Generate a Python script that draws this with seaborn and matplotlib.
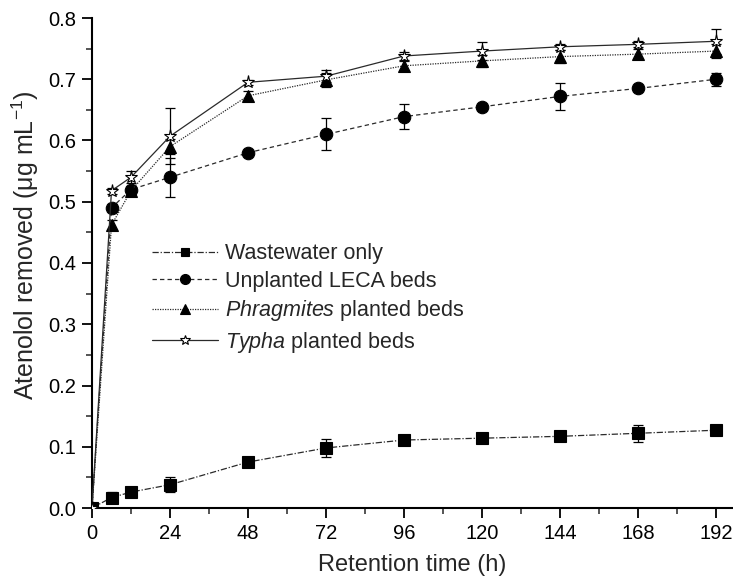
import numpy as np
import pandas as pd
import seaborn as sns
import matplotlib.pyplot as plt
from matplotlib.ticker import MultipleLocator

sns.set_theme(style="ticks")
plt.rcParams["font.family"] = ["Liberation Sans", "DejaVu Sans"]
plt.rcParams["mathtext.fontset"] = "custom"
plt.rcParams["mathtext.rm"] = "Liberation Sans"
plt.rcParams["mathtext.it"] = "Liberation Sans:italic"

hours = [0, 6, 12, 24, 48, 72, 96, 120, 144, 168, 192]

wastewater = [0, 0.017, 0.026, 0.038, 0.075, 0.098, 0.111, 0.114, 0.117, 0.122, 0.127]
wastewater_sd = [0, 0.009, 0.004, 0.012, 0.004, 0.014, 0.004, 0.008, 0.004, 0.014, 0.007]
leca = [0, 0.490, 0.520, 0.540, 0.580, 0.610, 0.639, 0.655, 0.672, 0.685, 0.700]
leca_sd = [0, 0.006, 0.006, 0.032, 0.003, 0.026, 0.020, 0.005, 0.022, 0.004, 0.011]
phragmites = [0, 0.462, 0.518, 0.590, 0.673, 0.699, 0.722, 0.730, 0.737, 0.741, 0.746]
phragmites_sd = [0, 0.008, 0.006, 0.012, 0.008, 0.012, 0.008, 0.010, 0.010, 0.008, 0.012]
typha = [0, 0.518, 0.540, 0.607, 0.695, 0.705, 0.738, 0.746, 0.753, 0.757, 0.762]
typha_sd = [0, 0.005, 0.010, 0.046, 0.004, 0.010, 0.006, 0.015, 0.005, 0.005, 0.020]

labels = ["Wastewater only", "Unplanted LECA beds",
          r"$\it{Phragmites}$ planted beds", r"$\it{Typha}$ planted beds"]

series = [
    (wastewater, wastewater_sd, (0, (5, 1.5, 1, 1.5)), "s", "black", 8),
    (leca, leca_sd, (0, (3.5, 2.5)), "o", "black", 9),
    (phragmites, phragmites_sd, (0, (1, 1)), "^", "black", 9),
    (typha, typha_sd, "-", "*", "white", 9.5),
]

fig = plt.figure(figsize=(7.33, 5.86), dpi=100)
ax = fig.add_axes([92 / 733, 78 / 586, 641 / 733, 490 / 586])

for (vals, sd, ls, mk, fc, ms), lab in zip(series, labels):
    ax.errorbar(hours, vals, yerr=sd, fmt="none", ecolor="black",
                elinewidth=0.9, capsize=3.5, capthick=0.9, zorder=2)
    sns.lineplot(x=hours, y=vals, ax=ax, color="#2a2a2a", linestyle=ls,
                 linewidth=0.9, marker=mk, markersize=ms,
                 markerfacecolor=fc, markeredgecolor="black",
                 markeredgewidth=0.8, label=lab, zorder=3)

ax.set_xlim(0, 197.2)
ax.set_ylim(0, 0.8)
ax.xaxis.set_major_locator(MultipleLocator(24))
ax.xaxis.set_minor_locator(MultipleLocator(12))
ax.yaxis.set_major_locator(MultipleLocator(0.1))
ax.yaxis.set_minor_locator(MultipleLocator(0.05))
ax.tick_params(which="major", direction="out", length=7.5, width=1.3,
               labelsize=14.5, colors="black", pad=4)
ax.tick_params(which="minor", direction="out", length=4, width=1.1)
sns.despine(ax=ax)
for s in ["left", "bottom"]:
    ax.spines[s].set_linewidth(1.5)
    ax.spines[s].set_color("black")

ax.set_xlabel("Retention time (h)", fontsize=17, labelpad=8)
ax.set_ylabel(r"Atenolol removed (μg mL$^{-1}$)", fontsize=18)
ax.yaxis.set_label_coords(-0.079, 0.537)

ax.legend(loc="upper left", bbox_to_anchor=(0.094, 0.54), frameon=False,
          fontsize=15.5, handlelength=3.05, handletextpad=0.33,
          labelspacing=0.3, borderpad=0, borderaxespad=0, markerscale=0.8)

fig.savefig("out.png", dpi=100)
